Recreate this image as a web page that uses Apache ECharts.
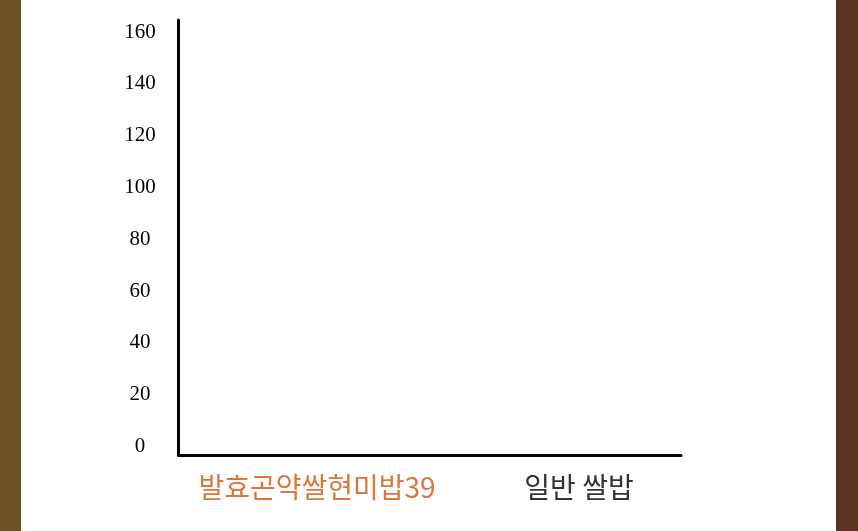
<!DOCTYPE html>
<html>
<head>
<meta charset="utf-8">
<style>
  html, body { margin: 0; padding: 0; }
  body {
    width: 858px; height: 531px;
    background: linear-gradient(to right, #6a5423 0, #6a5423 21px, #ffffff 21px, #ffffff 836px, #5b3421 836px, #5b3421 858px);
  }
  #chart { width: 858px; height: 531px; }
</style>
<script src="https://cdn.jsdelivr.net/npm/echarts@6/dist/echarts.min.js"></script>
</head>
<body>
<div id="chart"></div>
<script>
var categories = ['발효곤약쌀현미밥39', '일반 쌀밥'];
var labelColors = ['#d9773f', '#333333'];
// bars are not drawn in the picture (still empty)
var values = [0, 0];
var yMin = 0, yMax = 160, yStep = 20;

var dom = document.getElementById('chart');
var myChart = echarts.init(dom, null, { renderer: 'canvas' });

var option = {
    animation: false,
    grid: [
        // axis lines only
        { left: 178.5, right: 177, top: 20, bottom: 76 },
        // labels + bars
        { left: 186, right: 148, top: 32, bottom: 84.5 }
    ],
    xAxis: [
        {
            gridIndex: 0,
            type: 'category',
            data: categories,
            axisLine: { show: true, lineStyle: { color: '#000', width: 3 } },
            axisTick: { show: false },
            axisLabel: { show: false },
            splitLine: { show: false }
        },
        {
            gridIndex: 1,
            type: 'category',
            data: categories,
            axisLine: { show: false },
            axisTick: { show: false },
            splitLine: { show: false },
            axisLabel: {
                interval: 0,
                hideOverlap: false,
                margin: 27,
                fontSize: 28,
                fontFamily: '"Noto Sans CJK KR", sans-serif',
                color: function (val, idx) { return labelColors[idx]; }
            }
        }
    ],
    yAxis: [
        {
            gridIndex: 0,
            type: 'value',
            min: 0, max: 1,
            axisLine: { show: true, lineStyle: { color: '#000', width: 3 } },
            axisTick: { show: false },
            axisLabel: { show: false },
            splitLine: { show: false }
        },
        {
            gridIndex: 1,
            type: 'value',
            min: yMin, max: yMax, interval: yStep,
            axisLine: { show: false },
            axisTick: { show: false },
            splitLine: { show: false },
            axisLabel: {
                align: 'center',
                margin: 46,
                fontSize: 21,
                fontFamily: '"Liberation Serif", serif',
                color: '#000'
            }
        }
    ],
    series: [
        {
            type: 'bar',
            xAxisIndex: 1,
            yAxisIndex: 1,
            data: values,
            barWidth: '50%',
            itemStyle: {
                color: function (p) { return labelColors[p.dataIndex]; }
            }
        }
    ]
};

myChart.setOption(option);
window.addEventListener('resize', myChart.resize);
</script>
</body>
</html>
